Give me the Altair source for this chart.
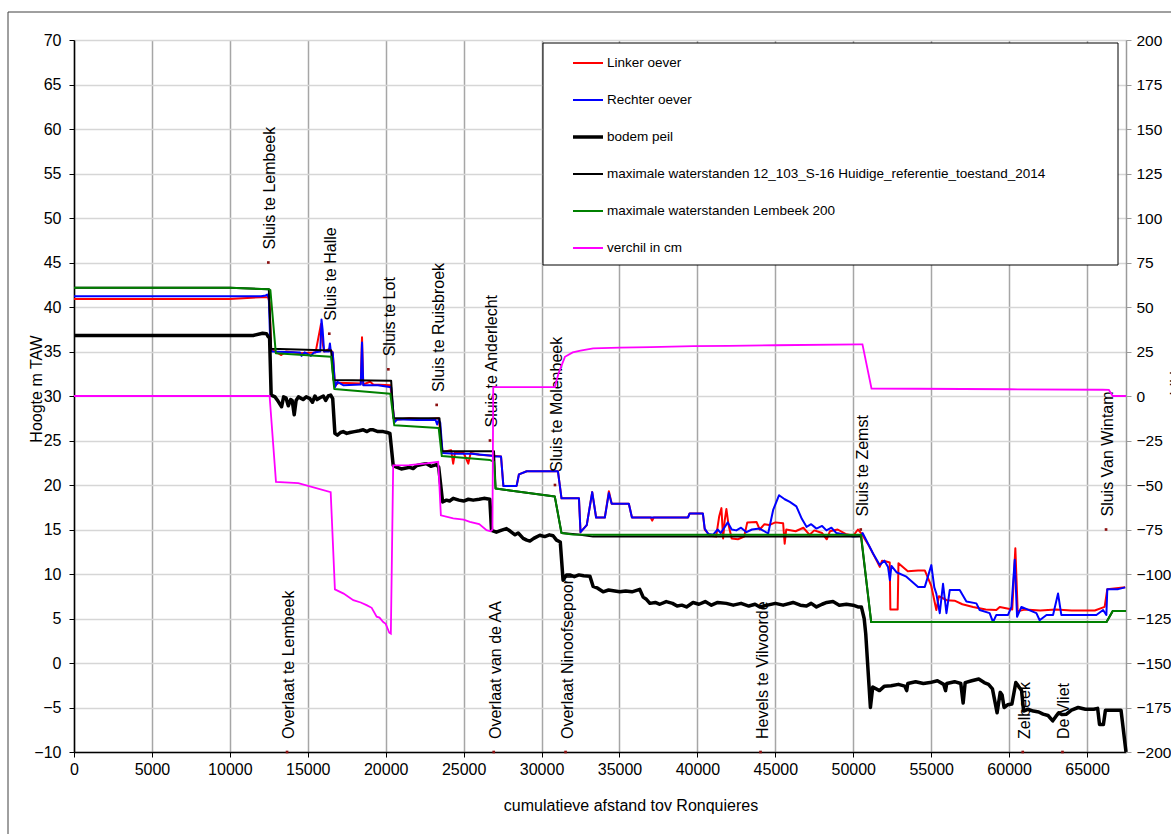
import altair as alt
import pandas as pd

FONT = "Liberation Sans"

x_ticks = list(range(0, 65001, 5000))
left_ticks = list(range(-10, 71, 5))
right_ticks = list(range(-200, 201, 25))

linker_oever = [(0,40.9),(10000,40.9),(12000,41.1),(12450,41.1),(12550,40.5),(12650,35.3),(12900,35.0),(13300,34.6),(13600,35.0),(14500,34.8),(15500,34.9),(15850,38.1),(15950,36.0),(16050,35.0),(16400,35.3),(16600,34.9),(16750,31.2),(17000,31.5),(18400,31.4),(18480,36.6),(18560,31.3),(19000,31.6),(19200,31.3),(20300,31.2),(20550,27.3),(21500,27.5),(22500,27.4),(23400,27.5),(23650,23.7),(24200,23.9),(24330,22.4),(24450,23.7),(25000,23.6),(25300,22.4),(25450,23.6),(26000,23.4),(26950,23.3),(27400,23.2),(27550,19.9),(28400,19.9),(28550,21.2),(29050,21.55),(31050,21.55),(31280,18.5),(32400,18.5),(32500,14.7),(32900,15.5),(33250,19.2),(33500,16.35),(34060,16.35),(34320,19.3),(34500,17.9),(35600,17.9),(35800,16.35),(37000,16.35),(37100,16.0),(37200,16.35),(39400,16.35),(39500,16.8),(40350,16.8),(40470,15.0),(40800,14.3),(41200,14.2),(41400,16.5),(41540,17.4),(41650,14.0),(41750,16.0),(41860,17.3),(42000,15.5),(42200,14.0),(42600,13.9),(43000,14.2),(43200,15.8),(43790,15.85),(44000,15.0),(44300,15.6),(44600,15.5),(45000,15.8),(45500,15.7),(45600,13.4),(45700,15.0),(46300,14.8),(46800,15.2),(47200,14.4),(47500,14.9),(48000,14.6),(48300,13.9),(48500,14.8),(49000,15.0),(49500,14.5),(50000,14.3),(50300,15.0),(50500,14.6),(51000,13.2),(51500,11.5),(51700,10.8),(51850,11.5),(52120,11.4),(52340,11.3),(52380,6.0),(52850,6.0),(52900,11.2),(53500,10.3),(54160,10.4),(54590,10.4),(55000,8.7),(55330,5.95),(55500,7.5),(56000,7.05),(56500,7.0),(57000,6.6),(57690,6.3),(58500,6.0),(59180,5.95),(59400,6.3),(60200,6.0),(60400,12.9),(60550,5.8),(61000,6.0),(62000,5.9),(63000,6.0),(64000,5.9),(65500,5.9),(66130,6.3),(66300,8.3),(67450,8.5)]

rechter_oever = [(0,41.2),(12000,41.2),(12300,41.3),(12400,41.4),(12500,41.0),(12600,35.5),(12700,35.0),(13500,34.95),(14500,34.9),(14600,34.5),(14800,34.9),(15200,34.5),(15400,34.9),(15800,35.0),(15880,38.6),(15950,37.5),(16050,35.0),(16350,35.0),(16420,35.9),(16480,35.0),(16600,34.9),(16750,31.0),(16900,31.6),(17300,31.2),(18400,31.3),(18480,36.0),(18560,31.2),(19500,31.2),(20250,31.0),(20350,31.0),(20550,27.0),(20750,27.4),(22000,27.3),(23200,27.3),(23300,26.8),(23400,27.3),(23500,27.0),(23650,23.6),(24500,23.5),(25500,23.5),(26800,23.3),(26950,23.2),(27400,23.2),(27550,19.9),(28400,19.9),(28550,21.2),(29050,21.55),(31050,21.55),(31280,18.5),(32400,18.5),(32500,14.7),(32900,15.5),(33250,19.2),(33500,16.35),(34060,16.35),(34320,19.1),(34500,17.9),(35600,17.9),(35800,16.35),(39400,16.35),(39500,16.8),(40350,16.8),(40470,15.1),(40700,14.5),(41000,14.4),(41300,15.0),(41500,14.6),(41950,15.8),(42200,15.0),(42500,14.9),(42800,15.2),(43150,14.7),(43500,15.0),(44000,15.1),(44540,14.55),(44860,17.2),(45240,18.85),(45600,18.4),(45930,18.1),(46350,17.6),(46700,16.2),(47000,15.3),(47300,15.6),(47640,15.1),(48000,15.4),(48280,14.9),(48600,15.2),(48920,14.6),(49500,14.4),(49990,14.2),(50500,14.3),(50600,14.6),(51270,12.3),(51700,11.0),(52000,11.5),(52230,10.8),(52350,9.3),(52450,10.9),(52770,10.2),(53410,9.7),(54160,8.55),(54590,8.55),(55010,11.0),(55200,8.5),(55330,7.8),(55550,5.6),(55760,8.9),(55980,5.6),(56190,8.2),(56830,8.2),(57260,6.9),(57900,6.7),(58110,5.95),(58750,5.6),(58970,4.6),(59180,5.4),(59930,5.4),(60150,6.3),(60360,11.6),(60510,5.2),(60790,6.3),(61750,5.6),(61960,4.8),(62400,5.4),(62820,5.4),(63140,7.8),(63350,5.4),(65600,5.4),(66030,5.95),(66240,5.4),(66300,8.3),(67000,8.3),(67450,8.5)]

bodem_peil = [(0,36.8),(11500,36.8),(12100,37.05),(12350,37.0),(12450,36.7),(12550,36.5),(12650,30.1),(12900,29.9),(13100,29.4),(13320,28.8),(13450,29.9),(13600,29.8),(13750,28.9),(13900,29.6),(14000,29.5),(14130,27.9),(14250,29.5),(14400,29.9),(14700,29.6),(14900,29.9),(15140,29.7),(15300,29.3),(15460,30.0),(15600,29.6),(15780,29.8),(16000,30.0),(16150,29.5),(16310,30.0),(16470,30.1),(16600,29.7),(16740,25.8),(16900,25.6),(17100,25.9),(17270,26.0),(17500,25.8),(17700,25.9),(18000,26.0),(18300,26.1),(18560,26.2),(18800,26.0),(19000,26.2),(19200,26.2),(19500,26.0),(19840,26.0),(20100,25.9),(20270,25.8),(20480,22.2),(20700,22.0),(21000,21.8),(21300,21.9),(21500,22.0),(21760,21.85),(22000,22.2),(22300,22.3),(22620,22.4),(22900,22.1),(23100,22.2),(23260,22.3),(23400,22.0),(23650,18.1),(23900,18.3),(24100,18.2),(24330,18.5),(24700,18.3),(25000,18.2),(25300,18.4),(25610,18.3),(26000,18.4),(26300,18.5),(26680,18.4),(26790,14.9),(27100,14.7),(27400,14.9),(27750,15.1),(28000,14.8),(28300,14.4),(28500,14.6),(28820,14.0),(29050,13.8),(29250,13.7),(29500,14.0),(29890,14.35),(30200,14.2),(30500,14.4),(30740,14.3),(30960,13.8),(31200,13.6),(31380,9.3),(31600,9.9),(31810,9.9),(32100,9.7),(32400,9.9),(32700,9.8),(33100,9.76),(33310,8.6),(33600,8.4),(33950,8.0),(34300,8.2),(34700,8.1),(35020,8.0),(35400,8.1),(35800,8.0),(36300,8.27),(36520,7.4),(36700,7.2),(36950,6.7),(37300,6.8),(37590,6.6),(38000,6.9),(38400,6.7),(38700,6.4),(39000,6.5),(39300,6.3),(39720,6.8),(40100,6.6),(40500,6.9),(40900,6.5),(41300,6.8),(41860,6.7),(42300,6.5),(42800,6.7),(43300,6.4),(43700,6.6),(44000,6.3),(44500,6.5),(45000,6.7),(45500,6.5),(46140,6.8),(46600,6.5),(47000,6.4),(47300,6.7),(47640,6.3),(48000,6.6),(48300,6.8),(48700,6.9),(49100,6.5),(49560,6.6),(49990,6.5),(50300,6.3),(50520,6.3),(50700,5.0),(50800,3.3),(51100,-5.0),(51250,-2.7),(51680,-3.1),(52000,-2.6),(52430,-2.55),(52900,-2.4),(53300,-2.6),(53430,-3.1),(53500,-2.3),(54000,-2.1),(54500,-2.3),(54920,-2.2),(55400,-2.0),(55800,-2.4),(55920,-3.1),(56000,-2.3),(56500,-2.1),(56900,-2.3),(57050,-4.5),(57180,-2.2),(57600,-2.0),(58050,-1.8),(58400,-2.2),(58680,-2.4),(58930,-2.9),(59230,-5.6),(59430,-3.3),(59550,-3.6),(59680,-5.0),(59900,-4.7),(60180,-4.6),(60430,-2.2),(60600,-2.6),(60800,-3.1),(60930,-5.4),(61200,-5.2),(61550,-5.4),(61900,-5.5),(62180,-5.75),(62500,-5.9),(62800,-6.5),(63000,-6.0),(63180,-5.6),(63400,-5.8),(63680,-5.75),(64000,-5.3),(64430,-5.0),(64900,-5.2),(65430,-5.2),(65680,-5.1),(65800,-6.9),(66050,-6.9),(66180,-5.3),(67180,-5.3),(67500,-10.0)]

max_ref_2014 = [(0,42.15),(10000,42.15),(12500,42.0),(12650,35.3),(16500,35.1),(16650,31.8),(20350,31.7),(20500,27.5),(23450,27.5),(23600,23.8),(26950,23.8),(27050,19.6),(30850,18.7),(31280,14.6),(32500,14.4),(33300,14.2),(50500,14.2),(51150,4.6),(66250,4.6),(66650,5.85),(67500,5.85)]

max_lembeek_200 = [(0,42.15),(10000,42.15),(12500,42.0),(12600,41.9),(12950,34.8),(16500,34.4),(16700,30.8),(20300,30.25),(20550,26.7),(23400,26.4),(23600,23.25),(26700,22.8),(26950,22.6),(27050,19.6),(30850,18.7),(31280,14.6),(32000,14.45),(34000,14.4),(50500,14.4),(51150,4.6),(66250,4.6),(66650,5.85),(67500,5.85)]

verschil_cm = [(0,0),(12550,0),(12960,-48.3),(14390,-49),(16470,-54),(16740,-108.6),(17300,-111),(17920,-114.7),(18400,-116),(18770,-117.5),(19100,-119),(19420,-124),(19600,-124.5),(19840,-127),(20000,-128),(20230,-133),(20330,-133.5),(20480,-39),(21500,-38.8),(22500,-38),(22940,-37.5),(23370,-37),(23540,-67),(24330,-68.8),(25000,-69.5),(25400,-70.7),(26000,-72),(26470,-75.4),(26730,-76),(26850,-75),(26900,5),(30850,5),(31100,13),(31500,22),(32000,24.5),(32500,25.5),(33310,26.7),(35020,27.2),(37000,27.5),(39730,28.0),(42000,28.2),(45000,28.5),(50420,29.0),(50590,29.0),(51170,4.2),(60000,3.8),(66000,3.5),(66400,3.4),(66650,0),(67500,0)]

sluis_labels = ["Sluis te Lembeek", "Sluis te Halle", "Sluis te Lot", "Sluis te  Ruisbroek",
                "Sluis te  Anderlecht", "Sluis te  Molenbeek", "Sluis te Zemst", "Sluis Van Wintam"]
sluis_x = [12470, 16380, 20170, 23270, 26690, 30860, 50480, 66220]
sluis_y = [45, 37, 33, 29, 25, 20, 15, 15]

overlaat_labels = ["Overlaat  te Lembeek", "Overlaat  van de AA", "Overlaat  Ninoofsepoort",
                   "Hevels  te Vilvoorde", "Zelbeek", "De Vliet"]
overlaat_x = [13670, 26930, 31540, 44050, 60875, 63425]
overlaat_y = [-10, -10, -10, -10, -10, -10]

legend_labels = ["Linker oever", "Rechter oever", "bodem peil",
                 "maximale waterstanden 12_103_S-16 Huidige_referentie_toestand_2014",
                 "maximale waterstanden Lembeek 200", "verchil in cm"]
legend_colors = ["#ff0000", "#0000ff", "#000000", "#000000", "#008000", "#ff00ff"]
legend_widths = [2, 2, 3.5, 2, 2, 2]

W, H = 1052, 712

def df(pts):
    return pd.DataFrame({"x": [p[0] for p in pts], "y": [p[1] for p in pts]})

xscale = alt.Scale(domain=[0, 67500], nice=False, zero=False)
xaxis = alt.Axis(values=x_ticks, format="d", labelFont=FONT, labelFontSize=16, labelColor="#000",
                 domainColor="#000", domainWidth=1.5, tickColor="#000", tickSize=5, labelPadding=4,
                 gridColor="#a6a6a6", gridWidth=1.5, labelOverlap=False, labelFlush=False)
yscale_l = alt.Scale(domain=[-10, 70], nice=False, zero=False)
yaxis_l = alt.Axis(values=left_ticks, labelFont=FONT, labelFontSize=16, labelColor="#000",
                   domainColor="#000", domainWidth=1.5, tickColor="#000", tickSize=5, labelPadding=8,
                   gridColor="#d6d6d6", gridWidth=1.5, labelOverlap=False, labelFlush=False)
yscale_r = alt.Scale(domain=[-200, 200], nice=False, zero=False)
yaxis_r = alt.Axis(orient="right", values=right_ticks, labelFont=FONT, labelFontSize=15.5, labelColor="#000",
                   domainColor="#9a9a9a", domainWidth=1.5, tickColor="#9a9a9a", tickSize=5, labelPadding=5,
                   grid=False, labelOverlap=False, labelFlush=False)

X = alt.X("x:Q", scale=xscale, axis=xaxis, title=None)
YL = alt.Y("y:Q", scale=yscale_l, axis=yaxis_l, title=None)
YR = alt.Y("y:Q", scale=yscale_r, axis=yaxis_r, title=None)

one = pd.DataFrame({"a": [0]})

frame = alt.Chart(one).mark_rect(fillOpacity=0, stroke="#404040", strokeWidth=1).encode(
    x=alt.value(-66), x2=alt.value(1300), y=alt.value(-28), y2=alt.value(900))

def line(pts, color, width):
    return alt.Chart(df(pts)).mark_line(color=color, strokeWidth=width, strokeJoin="round").encode(x=X, y=YL)

red = line(linker_oever, "#ff0000", 2)
blue = line(rechter_oever, "#0000ff", 2)
bed = line(bodem_peil, "#000000", 3.5)
thin = line(max_ref_2014, "#000000", 2)
green = line(max_lembeek_200, "#008000", 2)

ann = pd.DataFrame({"x": sluis_x + overlaat_x, "y": sluis_y + overlaat_y,
                    "label": sluis_labels + overlaat_labels})
dots = alt.Chart(ann).mark_square(size=7, color="#8b1010", opacity=1).encode(x=X, y=YL)
texts = alt.Chart(ann).mark_text(angle=270, align="left", baseline="middle", dx=13, dy=2,
                                 font=FONT, fontSize=16, color="#000").encode(x=X, y=YL, text="label:N")

legend_box = alt.Chart(one).mark_rect(fill="#ffffff", stroke="#000000", strokeWidth=1).encode(
    x=alt.value(469), x2=alt.value(1044), y=alt.value(3), y2=alt.value(225))
legend_layers = [legend_box]
for i, (lab, col, w) in enumerate(zip(legend_labels, legend_colors, legend_widths)):
    yy = 23 + i * 37
    legend_layers.append(alt.Chart(one).mark_rule(color=col, strokeWidth=w).encode(
        x=alt.value(499), x2=alt.value(529), y=alt.value(yy)))
    legend_layers.append(alt.Chart(one).mark_text(align="left", baseline="middle", font=FONT,
                                                  fontSize=13.5, color="#000", text=lab).encode(
        x=alt.value(533), y=alt.value(yy)))

titles = [
    alt.Chart(one).mark_text(align="center", baseline="middle", font=FONT, fontSize=16, color="#000",
                             text="cumulatieve  afstand tov Ronquieres").encode(x=alt.value(557), y=alt.value(766)),
    alt.Chart(one).mark_text(align="center", baseline="middle", font=FONT, fontSize=16, color="#000",
                             angle=270, text="Hoogte m TAW").encode(x=alt.value(-37), y=alt.value(349)),
    alt.Chart(one).mark_text(align="center", baseline="middle", font=FONT, fontSize=16, color="#000",
                             angle=270, text="verschil in cm").encode(x=alt.value(1103), y=alt.value(345)),
]

left = alt.layer(frame, red, blue, bed, thin, green, dots, texts, *legend_layers, *titles)
right = alt.Chart(df(verschil_cm)).mark_line(color="#ff00ff", strokeWidth=1.8).encode(x=X, y=YR)

chart = alt.layer(left, right).resolve_scale(y="independent").properties(
    width=W, height=H,
    autosize=alt.AutoSizeParams(type="none"),
    padding={"left": 74, "top": 40, "right": 45, "bottom": 82},
).configure_view(stroke="transparent").configure(background="#ffffff")

chart.save("out.html", embed_options={"renderer": "svg", "actions": False})
